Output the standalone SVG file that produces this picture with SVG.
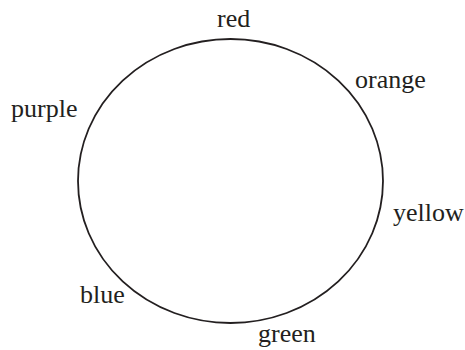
<svg xmlns="http://www.w3.org/2000/svg" width="465" height="350" viewBox="0 0 465 350">
<style>
text{font-family:"Liberation Serif","Times New Roman",serif;font-size:26px;fill:#231f20}
</style>
<rect width="465" height="350" fill="#fff"/>
<g id="circle"><ellipse cx="230.5" cy="181" rx="152.5" ry="142" fill="none" stroke="#231f20" stroke-width="1.8"/></g>
<g id="labels">
<text x="217" y="27">red</text>
<text x="355" y="88">orange</text>
<text x="11" y="117">purple</text>
<text x="393" y="221">yellow</text>
<text x="80" y="303">blue</text>
<text x="258" y="342">green</text>
</g>
</svg>
